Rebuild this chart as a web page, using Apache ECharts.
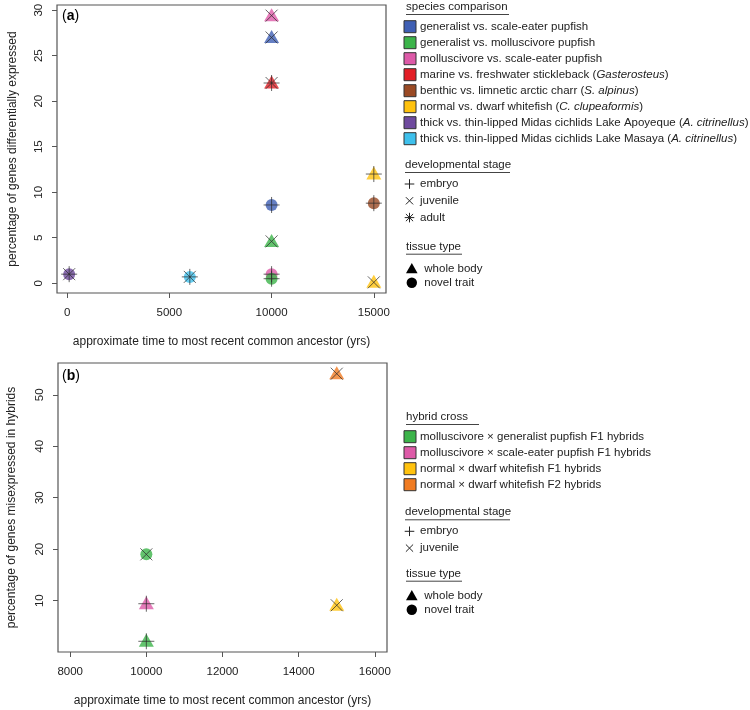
<!DOCTYPE html>
<html>
<head>
<meta charset="utf-8">
<script src="https://cdn.jsdelivr.net/npm/echarts@6/dist/echarts.min.js"></script>
<style>
  html, body { margin: 0; padding: 0; background: #fff; }
  #chart { width: 750px; height: 710px; }
</style>
</head>
<body>
<div id="chart"></div>
<script>
// panel (a): species comparisons
const speciesNames = [
  'generalist vs. scale-eater pupfish',
  'generalist vs. molluscivore pupfish',
  'molluscivore vs. scale-eater pupfish',
  'marine vs. freshwater stickleback ({i|Gasterosteus})',
  'benthic vs. limnetic arctic charr ({i|S. alpinus})',
  'normal vs. dwarf whitefish ({i|C. clupeaformis})',
  'thick vs. thin-lipped Midas cichlids Lake Apoyeque ({i|A. citrinellus})',
  'thick vs. thin-lipped Midas cichlids Lake Masaya ({i|A. citrinellus})'
];
const speciesColors = ['#3f5fb4', '#3cb44a', '#dd5aa8', '#e31e26', '#9a4a24', '#ffc20e', '#6f4a9e', '#3ec0ec'];
const timeA    = [100, 6000, 10000, 10000, 10000, 10000, 10000, 10000, 10000, 15000, 15000, 15000];
const pctA     = [1.0, 0.7, 29.4, 27.0, 22.0, 8.6, 4.6, 1.0, 0.5, 12.0, 8.8, 0.1];
const speciesA = [6, 7, 2, 0, 3, 0, 1, 2, 1, 5, 4, 5];
const stageA   = ['adult', 'adult', 'juvenile', 'juvenile', 'adult', 'embryo', 'juvenile', 'embryo', 'embryo', 'embryo', 'embryo', 'juvenile'];
const tissueA  = ['novel', 'novel', 'whole', 'whole', 'whole', 'novel', 'whole', 'novel', 'novel', 'whole', 'novel', 'whole'];

// panel (b): hybrid crosses
const hybridNames = [
  'molluscivore \u00d7 generalist pupfish F1 hybrids',
  'molluscivore \u00d7 scale-eater pupfish F1 hybrids',
  'normal \u00d7 dwarf whitefish F1 hybrids',
  'normal \u00d7 dwarf whitefish F2 hybrids'
];
const hybridColors = ['#3cb44a', '#dd5aa8', '#ffc20e', '#f07b22'];
const timeB   = [15000, 10000, 10000, 15000, 10000];
const pctB    = [54.1, 19.0, 9.4, 9.1, 2.1];
const crossB  = [3, 0, 1, 2, 0];
const stageB  = ['juvenile', 'juvenile', 'embryo', 'juvenile', 'embryo'];
const tissueB = ['whole', 'novel', 'whole', 'whole', 'whole'];

const stageLabels  = ['embryo', 'juvenile', 'adult'];
const tissueLabels = ['whole body', 'novel trait'];

const ticksXA = [0, 5000, 10000, 15000];
const ticksYA = [0, 5, 10, 15, 20, 25, 30];
const ticksXB = [8000, 10000, 12000, 14000, 16000];
const ticksYB = [10, 20, 30, 40, 50];

const FONT = '"Liberation Sans", Arial, sans-serif';
const INK = '#222';
const LEG = 11.5;

const MARK = {
  embryo:   { symbol: 'path://M0,8L16,8M8,0L8,16', size: 16 },
  juvenile: { symbol: 'path://M0,0L12,12M12,0L0,12', size: 12 },
  adult:    { symbol: 'path://M0,8L16,8M8,0L8,16M2,2L14,14M14,2L2,14', size: 16 }
};
const SHAPE = {
  whole: { symbol: 'triangle', size: [15, 13], offset: [0, -1] },
  novel: { symbol: 'circle', size: 12, offset: [0, 0] }
};

function shapeData(xs, ys, groups, tissue, colors) {
  return xs.map((x, i) => ({
    value: [x, ys[i]],
    symbol: SHAPE[tissue[i]].symbol,
    symbolSize: SHAPE[tissue[i]].size,
    symbolOffset: SHAPE[tissue[i]].offset,
    itemStyle: { color: colors[groups[i]] }
  }));
}
function markData(xs, ys, stage) {
  return xs.map((x, i) => ({
    value: [x, ys[i]],
    symbol: MARK[stage[i]].symbol,
    symbolSize: MARK[stage[i]].size
  }));
}

function xAxis(idx, min, max, ticks) {
  return {
    type: 'value', gridIndex: idx, min, max,
    name: 'approximate time to most recent common ancestor (yrs)',
    nameLocation: 'middle', nameGap: 43,
    nameTextStyle: { fontSize: 12, color: INK, fontFamily: FONT },
    axisLine: { show: false, onZero: false },
    axisTick: { show: true, length: 5, lineStyle: { color: '#555' }, customValues: ticks },
    axisLabel: { customValues: ticks, margin: 14, fontSize: 11.5, color: INK, fontFamily: FONT, formatter: v => String(v) },
    splitLine: { show: false }
  };
}
function yAxis(idx, min, max, ticks, name, gap) {
  return {
    type: 'value', gridIndex: idx, min, max,
    name, nameLocation: 'middle', nameGap: gap,
    nameTextStyle: { fontSize: 12, color: INK, fontFamily: FONT },
    axisLine: { show: false, onZero: false },
    axisTick: { show: true, length: 5, lineStyle: { color: '#555' }, customValues: ticks },
    axisLabel: { customValues: ticks, rotate: 90, margin: 12, fontSize: 11.5, color: INK, fontFamily: FONT, formatter: v => String(v) },
    splitLine: { show: false }
  };
}

const markStyle = { color: 'rgba(0,0,0,0)', borderColor: '#2a2a2a', borderWidth: 0.9 };

// legends drawn as graphic elements
const graphic = [];
function txt(x, y, text, extra) {
  graphic.push({
    type: 'text', x, y, silent: true,
    style: Object.assign({
      text, fontSize: LEG, fontFamily: FONT, fill: INK, verticalAlign: 'middle',
      rich: { i: { fontStyle: 'italic', fontSize: LEG, fontFamily: FONT, fill: INK } }
    }, extra || {})
  });
}
function heading(x, y, text, w) {
  txt(x, y, text);
  graphic.push({ type: 'line', silent: true, shape: { x1: x, y1: y + 7.5, x2: x + w, y2: y + 7.5 }, style: { stroke: '#444', lineWidth: 1 } });
}
function seg(x1, y1, x2, y2) {
  graphic.push({ type: 'line', silent: true, shape: { x1, y1, x2, y2 }, style: { stroke: INK, lineWidth: 1 } });
}
function stageIcon(kind, cx, cy) {
  const p = 4.8, c = 3.6;
  if (kind !== 'juvenile') { seg(cx - p, cy, cx + p, cy); seg(cx, cy - p, cx, cy + p); }
  if (kind !== 'embryo') { seg(cx - c, cy - c, cx + c, cy + c); seg(cx + c, cy - c, cx - c, cy + c); }
}
function legendBlock(x0, y0, title, titleW, names, colors, stages, stageY, tissueY) {
  heading(x0 + 2, y0, title, titleW);
  names.forEach((n, i) => {
    const cy = y0 + 19.7 + 16 * i;
    graphic.push({ type: 'rect', silent: true, shape: { x: x0, y: cy - 6, width: 12, height: 12 }, style: { fill: colors[i], stroke: '#333', lineWidth: 1 } });
    txt(x0 + 16, cy, n);
  });
  heading(x0 + 1, stageY, 'developmental stage', 105);
  stages.forEach((s, i) => {
    const cy = stageY + 19 + 16.8 * i;
    stageIcon(s, x0 + 5.5, cy);
    txt(x0 + 16, cy, s);
  });
  heading(x0 + 2, tissueY, 'tissue type', 56);
  const ty = tissueY + 22, cx = x0 + 7.8;
  graphic.push({ type: 'polygon', silent: true, shape: { points: [[cx - 5.8, ty + 4.6], [cx + 5.8, ty + 4.6], [cx, ty - 5.6]] }, style: { fill: '#000' } });
  txt(x0 + 20.3, ty, tissueLabels[0]);
  graphic.push({ type: 'circle', silent: true, shape: { cx, cy: ty + 14, r: 5.2 }, style: { fill: '#000' } });
  txt(x0 + 20.3, ty + 14, tissueLabels[1]);
}
legendBlock(404, 7, 'species comparison', 103, speciesNames, speciesColors, stageLabels, 165, 246.7);
legendBlock(404, 417, 'hybrid cross', 73, hybridNames, hybridColors, stageLabels.slice(0, 2), 512.3, 573.7);

// panel tags
const tagRich = { b: { fontWeight: 'bold', fontSize: 14, fontFamily: FONT, fill: '#000' } };
txt(62, 16, '({b|a})', { fontSize: 14, fill: '#000', rich: tagRich });
txt(62, 376, '({b|b})', { fontSize: 14, fill: '#000', rich: tagRich });

const chart = echarts.init(document.getElementById('chart'), null, { renderer: 'canvas' });
chart.setOption({
  backgroundColor: '#fff',
  animation: false,
  grid: [
    { left: 57, top: 5, width: 329, height: 288, show: true, borderColor: '#555', borderWidth: 1.2, containLabel: false },
    { left: 58, top: 363, width: 329, height: 289, show: true, borderColor: '#555', borderWidth: 1.2, containLabel: false }
  ],
  xAxis: [
    xAxis(0, -496, 15596, ticksXA),
    xAxis(1, 7680, 16320, ticksXB)
  ],
  yAxis: [
    yAxis(0, -1.07, 30.57, ticksYA, 'percentage of genes differentially expressed', 38),
    yAxis(1, 0.02, 56.18, ticksYB, 'percentage of genes misexpressed in hybrids', 40)
  ],
  series: [
    { type: 'scatter', xAxisIndex: 0, yAxisIndex: 0, z: 2, data: shapeData(timeA, pctA, speciesA, tissueA, speciesColors) },
    { type: 'scatter', xAxisIndex: 0, yAxisIndex: 0, z: 3, itemStyle: markStyle, data: markData(timeA, pctA, stageA) },
    { type: 'scatter', xAxisIndex: 1, yAxisIndex: 1, z: 2, data: shapeData(timeB, pctB, crossB, tissueB, hybridColors) },
    { type: 'scatter', xAxisIndex: 1, yAxisIndex: 1, z: 3, itemStyle: markStyle, data: markData(timeB, pctB, stageB) }
  ],
  graphic
});
</script>
</body>
</html>
